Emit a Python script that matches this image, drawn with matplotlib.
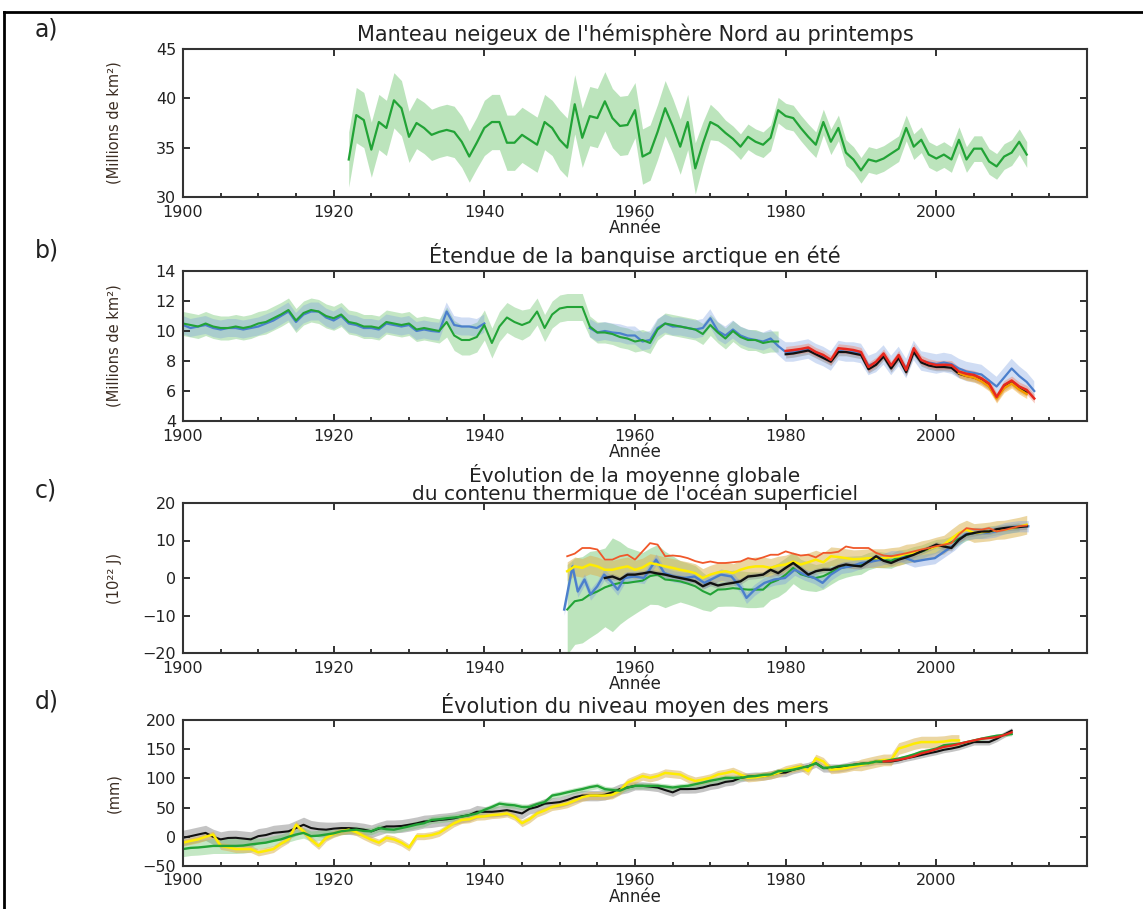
import numpy as np
import matplotlib
matplotlib.use("Agg")
import matplotlib.pyplot as plt
from matplotlib.lines import Line2D
from matplotlib.ticker import MultipleLocator, FixedLocator

plt.rcParams['font.family'] = ['DejaVu Sans']
TXT = '#222222'

# ---------------- a) Northern Hemisphere spring snow cover ----------------
snow_years = np.arange(1922, 2013)
snow_extent = [
    33.8, 38.3, 37.8, 34.8, 37.6, 37.0, 39.8, 39.0,            # 1922-1929
    36.1, 37.5, 37.0, 36.3, 36.6, 36.8, 36.6, 35.6, 34.1, 35.5,  # 1930s
    37.0, 37.6, 37.6, 35.5, 35.5, 36.3, 35.8, 35.3, 37.6, 37.0,  # 1940s
    35.8, 35.0, 39.4, 36.0, 38.2, 38.0, 39.7, 38.0, 37.2, 37.3,  # 1950s
    38.8, 34.1, 34.5, 36.6, 39.0, 37.2, 35.1, 37.6, 32.9, 35.4,  # 1960s
    37.6, 37.2, 36.5, 35.9, 35.1, 36.1, 35.6, 35.3, 36.0, 38.8,  # 1970s
    38.2, 38.0, 37.0, 36.1, 35.3, 37.6, 35.6, 37.0, 34.5, 33.8,  # 1980s
    32.7, 33.8, 33.6, 33.9, 34.4, 34.9, 37.0, 35.1, 35.8, 34.3,  # 1990s
    33.9, 34.3, 33.8, 35.8, 33.8, 34.9, 34.9, 33.6, 33.1, 34.1,  # 2000s
    34.5, 35.6, 34.3,                                            # 2010-2012
]
snow_unc = [
    2.8, 2.8, 2.8, 2.8, 2.8, 2.8, 2.8, 2.8,
    2.6, 2.6, 2.6, 2.6, 2.6, 2.6, 2.6, 2.6, 2.6, 2.6,
    2.8, 2.8, 2.8, 2.8, 2.8, 2.8, 2.8, 2.8, 2.8, 2.8,
    3.0, 3.0, 3.0, 3.0, 3.0, 3.0, 3.0, 3.0, 3.0, 3.0,
    2.8, 2.8, 2.8, 2.8, 2.8, 2.8, 2.8, 2.8, 2.6, 2.2,
    1.8, 1.5, 1.3, 1.3, 1.3, 1.3, 1.3, 1.3, 1.3, 1.3,
    1.3, 1.3, 1.3, 1.3, 1.3, 1.3, 1.3, 1.3, 1.3, 1.3,
    1.3, 1.3, 1.3, 1.3, 1.3, 1.3, 1.3, 1.3, 1.3, 1.3,
    1.3, 1.3, 1.3, 1.3, 1.3, 1.3, 1.3, 1.3, 1.3, 1.3,
    1.3, 1.3, 1.3,
]

# ---------------- b) Arctic summer sea ice extent ----------------
ice_green_years = np.arange(1900, 1980)
ice_green = [
    10.5, 10.4, 10.3, 10.5, 10.3, 10.2, 10.2, 10.3, 10.2, 10.3,
    10.5, 10.6, 10.85, 11.1, 11.4, 10.7, 11.2, 11.4, 11.3, 11.0,
    10.85, 11.1, 10.6, 10.5, 10.3, 10.3, 10.2, 10.6, 10.5, 10.4,
    10.5, 10.1, 10.2, 10.1, 10.0, 10.6, 9.7, 9.4, 9.4, 9.6,
    10.4, 9.2, 10.3, 10.9, 10.6, 10.4, 10.6, 11.3, 10.2, 11.1,
    11.5, 11.6, 11.6, 11.6, 10.3, 9.9, 9.9, 9.8, 9.6, 9.5,
    9.3, 9.4, 9.2, 10.1, 10.5, 10.4, 10.3, 10.2, 10.1, 9.8,
    10.4, 9.9, 9.5, 10.0, 9.6, 9.4, 9.4, 9.2, 9.3, 9.3,
]
ice_green_unc = [
    0.8, 0.8, 0.8, 0.8, 0.8, 0.8, 0.8, 0.8, 0.8, 0.8,
    0.8, 0.8, 0.8, 0.8, 0.8, 0.8, 0.8, 0.8, 0.8, 0.8,
    0.8, 0.8, 0.8, 0.8, 0.8, 0.8, 0.8, 0.8, 0.8, 0.8,
    0.8, 0.8, 0.8, 0.8, 0.8, 1.0, 1.0, 1.0, 1.0, 1.0,
    1.0, 1.0, 1.0, 1.0, 1.0, 1.0, 0.9, 0.9, 0.9, 0.9,
    0.9, 0.9, 0.9, 0.9, 0.7, 0.7, 0.7, 0.7, 0.7, 0.7,
    0.7, 0.7, 0.7, 0.7, 0.7, 0.7, 0.7, 0.7, 0.7, 0.7,
    0.7, 0.7, 0.7, 0.7, 0.7, 0.7, 0.7, 0.7, 0.7, 0.7,
]
ice_blue_years = np.arange(1900, 2014)
ice_blue = [
    10.4, 10.2, 10.3, 10.4, 10.2, 10.1, 10.2, 10.2, 10.1, 10.2,
    10.3, 10.5, 10.7, 11.0, 11.3, 10.6, 11.1, 11.3, 11.3, 10.9,
    10.7, 11.0, 10.5, 10.4, 10.2, 10.2, 10.1, 10.5, 10.4, 10.3,
    10.4, 10.0, 10.1, 10.0, 9.95, 11.3, 10.4, 10.3, 10.3, 10.2,
    10.5, np.nan, np.nan, np.nan, np.nan, np.nan, np.nan, np.nan, np.nan, np.nan,
    np.nan, np.nan, np.nan, np.nan, 10.2, 9.9, 10.0, 9.9, 9.85, 9.7,
    9.7, 9.3, 9.4, 10.2, 10.5, 10.3, 10.3, 10.2, 10.1, 10.2,
    10.85, 10.0, 9.7, 10.1, 9.7, 9.5, 9.4, 9.3, 9.5, 9.0,
    8.6, 8.6, 8.7, 8.8, 8.5, 8.3, 8.0, 8.7, 8.6, 8.6,
    8.5, 7.7, 7.9, 8.4, 7.7, 8.3, 7.5, 8.7, 8.0, 7.9,
    7.8, 7.9, 7.8, 7.5, 7.3, 7.2, 7.1, 6.7, 6.3, 6.9,
    7.5, 7.0, 6.6, 6.0,
]
ice_blue_unc = [0.6] * 80 + [0.65] * 34
ice_red_years = np.arange(1980, 2014)
ice_red = [
    8.67, 8.73, 8.8, 8.9, 8.6, 8.4, 8.07, 8.85, 8.8, 8.73,
    8.6, 7.6, 7.95, 8.5, 7.7, 8.4, 7.4, 8.85, 8.07, 7.85,
    7.73, 7.75, 7.73, 7.3, 7.15, 7.07, 6.84, 6.5, 5.6, 6.4,
    6.7, 6.3, 6.07, 5.5,
]
ice_black_years = np.arange(1980, 2013)
ice_black = [
    8.45, 8.5, 8.6, 8.7, 8.45, 8.2, 7.95, 8.6, 8.6, 8.5,
    8.4, 7.45, 7.75, 8.3, 7.5, 8.2, 7.25, 8.6, 7.9, 7.7,
    7.6, 7.6, 7.55, 7.15, 7.0, 6.9, 6.7, 6.35, 5.55, 6.25,
    6.55, 6.15, 5.9,
]
ice_orange_years = np.arange(2003, 2013)
ice_orange = [7.2, 7.0, 6.9, 6.65, 6.3, 5.5, 6.2, 6.5, 6.1, 5.8]

# ---------------- c) upper ocean heat content ----------------
ohc_red_years = np.arange(1951, 2013)
ohc_red = [
    5.8, 6.5, 8.0, 8.0, 7.6, 4.9, 4.9, 5.8, 6.2,
    4.9, 7.1, 9.3, 8.9, 5.8, 6.0, 5.8, 5.3, 4.5, 4.0,
    4.4, 4.0, 4.0, 4.2, 4.4, 5.3, 4.9, 5.5, 6.2, 6.2,
    7.1, 6.5, 6.0, 6.2, 5.5, 6.7, 6.7, 7.0, 8.4, 8.0,
    8.0, 8.0, 6.7, 6.0, 5.8, 6.2, 6.6, 7.1, 7.6, 8.0,
    8.5, 8.9, 9.3, 11.6, 13.3, 13.0, 12.9, 13.3, 12.4, 12.8,
    13.3, 13.8, 14.0,
]
ohc_black_years = np.arange(1956, 2013)
ohc_black = [
    0.0, 0.4, -0.4, 0.9,
    0.9, 1.2, 1.6, 1.2, 0.9, 0.4, 0.0, -0.4, -0.9, -2.2,
    -1.3, -2.0, -1.6, -1.3, -0.9, 0.4, 0.6, 0.9, 2.2, 1.3,
    2.7, 4.0, 2.5, 0.9, 1.8, 2.2, 2.2, 3.1, 3.6, 3.3,
    3.1, 4.4, 5.8, 4.6, 4.0, 4.9, 5.5, 6.2, 7.1, 8.0,
    8.9, 8.4, 8.0, 10.2, 11.6, 12.0, 12.4, 12.4, 13.0, 13.3,
    13.5, 13.6, 13.8,
]
ohc_yellow_years = np.arange(1951, 2013)
ohc_yellow = [
    1.8, 3.1, 2.7, 3.6, 3.1, 2.2, 2.2, 2.7, 3.1,
    2.2, 2.8, 4.0, 3.6, 3.1, 2.7, 2.2, 1.8, 1.3, 0.0,
    0.9, 1.5, 1.8, 1.3, 2.2, 2.8, 3.1, 3.1, 2.7, 3.3,
    3.6, 4.4, 3.6, 4.2, 4.9, 4.2, 5.8, 5.6, 5.3, 5.0,
    5.1, 5.3, 5.3, 5.3, 5.6, 5.8, 6.5, 6.7, 7.4, 7.8,
    8.4, 8.9, 10.5, 12.0, 12.9, 12.0, 12.2, 12.4, 12.8, 12.9,
    13.3, 13.7, 14.2,
]
ohc_blue_years = [
    1950.6, 1951.7, 1952.4, 1953.3, 1954.1, 1955.0, 1955.9, 1956.8, 1957.7,
    1958.6, 1959.9, 1961.2, 1962.8, 1963.9, 1965.2, 1966.6, 1967.9, 1969.2,
    1970.5, 1971.4, 1972.8, 1974.1, 1974.8, 1975.9, 1977.2, 1978.5, 1979.9,
    1981.2, 1982.5, 1983.8, 1984.9, 1986.0, 1987.4, 1988.7, 1990.0, 1991.4,
    1992.7, 1994.0, 1995.3, 1997.1, 1998.5, 1999.8, 2001.1, 2002.4, 2003.8,
    2005.1, 2006.4, 2007.8, 2009.1, 2010.9, 2012.2,
]
ohc_blue = [
    -8.4, 3.1, -3.6, -0.4, -4.4, -2.2, 0.9, -0.9, -3.1,
    0.0, 0.4, 0.0, 4.9, 1.3, 0.4, 0.0, 0.4, -1.3,
    0.0, 0.9, 0.4, -2.7, -5.3, -3.1, -1.3, -0.4, 0.0,
    2.2, 0.9, 0.0, -1.3, 0.9, 2.7, 3.1, 4.0, 4.4,
    4.9, 5.8, 5.8, 4.4, 4.9, 5.3, 7.1, 8.9, 11.6,
    12.0, 12.0, 12.4, 13.3, 13.8, 13.8,
]
ohc_green_years = np.arange(1951, 2012)
ohc_green = [
    -8.4, -6.2, -5.8, -4.4, -3.6, -2.5, -1.8, -1.3, -1.3,
    -1.0, -0.7, 0.5, 0.9, -0.4, -0.6, -0.9, -1.5, -2.2, -3.5,
    -4.4, -3.1, -3.0, -2.7, -2.9, -3.1, -3.1, -3.1, -1.3, -0.5,
    0.9, 2.7, 1.0, 0.4, 0.0, 0.5, 1.5, 2.5, 3.0, 3.3,
    3.5, 4.5, 5.0, 4.8, 4.6, 5.5, 5.8, 6.5, 7.0, 7.8,
    8.5, 8.8, 9.5, 10.5, 11.5, 12.0, 12.0, 12.5, 12.8, 13.0,
    13.3, 13.6,
]
ohc_green_unc = [
    12.0, 11.5, 11.5, 11.5, 11.0, 10.5, 12.5, 11.0, 9.5,
    8.5, 7.5, 7.5, 8.0, 7.5, 6.5, 5.5, 5.5, 5.5, 5.0,
    4.5, 4.5, 4.5, 4.8, 4.8, 4.8, 4.8, 4.6, 4.5, 4.5,
    4.5, 4.2, 4.0, 3.8, 3.6, 3.5, 3.2, 3.0, 2.8, 2.6,
    2.5, 2.3, 2.2, 2.1, 2.0, 2.0, 1.9, 1.9, 1.8, 1.8,
    1.8, 1.7, 1.7, 1.6, 1.5, 1.5, 1.4, 1.4, 1.3, 1.3,
    1.2, 1.2,
]

# ---------------- d) global mean sea level ----------------
gmsl_black_years = np.arange(1900, 2011)
gmsl_black = [
    -1.7, 1.0, 3.9, 6.7, 0.0, -4.4, -2.0, -1.7, -3.0, -4.4,
    1.1, 3.0, 6.7, 8.0, 9.4, 15.0, 20.6, 15.0, 13.0, 12.2,
    14.0, 15.0, 15.0, 14.0, 12.2, 9.4, 14.0, 17.8, 17.8, 18.5,
    20.6, 23.0, 26.1, 27.0, 28.9, 30.0, 31.7, 35.0, 37.2, 42.8,
    42.8, 42.8, 44.0, 45.6, 43.0, 40.0, 48.0, 51.1, 56.7, 58.0,
    59.4, 63.0, 67.8, 70.6, 70.6, 70.6, 72.0, 76.1, 81.7, 84.4,
    87.2, 87.2, 86.0, 84.4, 80.0, 76.1, 81.7, 81.7, 82.0, 84.4,
    88.0, 90.0, 94.0, 95.6, 101.0, 103.0, 103.9, 103.9, 106.0, 109.4,
    110.0, 115.0, 118.0, 120.6, 126.1, 117.8, 117.8, 117.8, 120.0, 123.3,
    125.0, 126.1, 128.9, 128.9, 128.9, 131.0, 134.4, 137.0, 140.0, 143.0,
    145.6, 149.0, 151.1, 153.9, 158.0, 162.2, 162.2, 162.2, 167.8, 175.0,
    181.7,
]
gmsl_black_unc = [13] * 20 + [11] * 20 + [9] * 20 + [7] * 30 + [5] * 21
gmsl_green_years = np.arange(1900, 2011)
gmsl_green = [
    -21.0, -19.0, -18.3, -17.0, -15.6, -15.6, -15.6, -15.6, -15.0, -13.0,
    -11.5, -10.0, -7.0, -4.4, 0.0, 3.9, 6.7, 1.1, 2.0, 3.9,
    6.0, 9.4, 11.0, 12.2, 10.0, 9.4, 15.0, 13.0, 12.2, 15.0,
    17.8, 21.0, 23.3, 28.9, 30.0, 31.7, 33.0, 34.4, 37.0, 40.0,
    46.0, 51.1, 56.7, 55.0, 53.9, 51.1, 51.1, 56.0, 59.4, 70.6,
    73.0, 76.1, 79.0, 81.7, 85.0, 87.2, 81.7, 80.0, 78.9, 84.4,
    87.2, 87.2, 87.2, 87.2, 86.0, 84.4, 86.0, 87.2, 90.0, 92.8,
    96.0, 98.3, 101.0, 101.0, 101.0, 103.0, 104.0, 106.0, 106.7, 112.2,
    113.0, 115.0, 118.0, 120.6, 126.1, 117.8, 119.0, 120.6, 122.0, 123.3,
    125.0, 126.1, 128.9, 129.0, 131.7, 134.0, 137.2, 141.0, 145.6, 148.0,
    151.1, 156.7, 158.0, 159.4, 162.0, 165.0, 168.0, 170.6, 173.0, 174.4,
    176.0,
]
gmsl_green_unc = [13] * 10 + [9] * 10 + [6] * 20 + [5] * 40 + [3] * 31
gmsl_yellow_years = np.arange(1900, 2004)
gmsl_yellow = [
    -10.0, -7.0, -4.4, 0.0, 3.9, -15.6, -18.0, -21.0, -21.0, -21.0,
    -26.7, -24.0, -21.0, -12.0, -4.4, 20.6, 9.4, -5.0, -15.6, -1.7,
    5.0, 9.4, 12.2, 8.0, 1.1, -5.0, -10.0, -1.7, -4.4, -10.0,
    -18.3, 1.1, 1.1, 3.0, 6.7, 15.0, 23.3, 28.9, 30.0, 34.4,
    35.0, 37.2, 38.0, 40.0, 34.4, 23.3, 30.0, 40.0, 45.0, 51.1,
    54.0, 56.7, 62.0, 67.8, 70.6, 70.6, 70.6, 72.0, 78.9, 92.8,
    98.3, 103.9, 101.0, 104.0, 109.4, 108.0, 106.7, 100.0, 95.6, 98.0,
    101.0, 106.7, 109.0, 112.2, 106.7, 101.0, 102.0, 103.9, 106.0, 109.4,
    115.0, 117.8, 120.6, 112.2, 134.4, 128.9, 115.0, 116.0, 117.8, 120.6,
    123.0, 126.1, 129.0, 131.7, 131.7, 151.1, 155.0, 159.4, 162.2, 162.2,
    162.2, 163.0, 165.0, 165.0,
]
gmsl_yellow_unc = [6] * 50 + [7] * 40 + [10] * 14
gmsl_red_years = np.arange(1993, 2011)
gmsl_red = [
    128.9, 130.0, 132.0, 134.4, 138.0, 142.8, 146.0, 150.0, 153.9, 156.0,
    159.0, 162.2, 165.0, 167.8, 169.0, 170.6, 174.0, 178.9,
]

year_ticks = [1900, 1920, 1940, 1960, 1980, 2000]

# ---------------- colours ----------------
GREEN, GREEN_BAND = '#22a336', '#6cc46c'
BLUE, BLUE_BAND = '#4b7fcc', '#7b9ee0'
RED, RED_BAND = '#e8281e', '#f07a60'
BLACK, GREY_BAND = '#111111', '#8a8a8a'
ORANGE, ORANGE_BAND = '#f59b00', '#f7b64a'
YELLOW, TAN_BAND = '#ffec00', '#dcb556'
OHC_RED = '#f0582a'


def band(ax, x, y, e, color, alpha):
    y = np.asarray(y, float)
    e = np.asarray(e, float)
    ax.fill_between(x, y - e, y + e, color=color, alpha=alpha, lw=0)


def style(ax, ylim, ystep, ylabel, title, title_pad=6, lines=1.0,
          xlabel_pad=-1, xtick_pad=6):
    ax.set_xlim(1900, 2020)
    ax.set_ylim(*ylim)
    ax.xaxis.set_major_locator(FixedLocator(year_ticks))
    ax.xaxis.set_minor_locator(MultipleLocator(5))
    ax.yaxis.set_major_locator(MultipleLocator(ystep))
    ax.tick_params(which='major', direction='in', length=5, width=1.3,
                   top=True, right=True, labelsize=11.5, colors=TXT, pad=5)
    ax.tick_params(axis='x', which='major', pad=xtick_pad)
    ax.tick_params(which='minor', direction='in', length=3, width=1.1,
                   top=False, right=False)
    for s in ax.spines.values():
        s.set_linewidth(1.5)
        s.set_color('#333333')
    ax.set_xlabel('Année', fontsize=12, color=TXT, labelpad=xlabel_pad)
    ax.set_ylabel(ylabel, fontsize=10.5, color='#3a2c22')
    ax.yaxis.set_label_coords(-0.068, 0.5)
    ax.set_title(title, fontsize=15, color=TXT, pad=title_pad,
                 linespacing=lines)


fig = plt.figure(figsize=(11.43, 9.09), dpi=100)
W, H = 1143, 909
left, width = 183 / W, (1087 - 183) / W


def make_axes(top_px, bottom_px):
    return fig.add_axes([left, 1 - bottom_px / H, width,
                         (bottom_px - top_px) / H])


# a)
ax = make_axes(49, 197)
band(ax, snow_years, snow_extent, snow_unc, GREEN_BAND, 0.45)
ax.plot(snow_years, snow_extent, color=GREEN, lw=1.6)
style(ax, (30, 45), 5, '(Millions de km²)',
      "Manteau neigeux de l'hémisphère Nord au printemps")

# b)
ax = make_axes(271, 421)
band(ax, ice_green_years, ice_green, ice_green_unc, GREEN_BAND, 0.4)
band(ax, ice_blue_years, ice_blue, ice_blue_unc, BLUE_BAND, 0.35)
band(ax, ice_black_years, ice_black, [0.25] * len(ice_black), GREY_BAND, 0.45)
band(ax, ice_red_years, ice_red, [0.3] * len(ice_red), RED_BAND, 0.4)
band(ax, ice_orange_years, ice_orange, [0.3] * len(ice_orange), ORANGE_BAND, 0.55)
ax.plot(ice_blue_years, ice_blue, color=BLUE, lw=1.6)
ax.plot(ice_green_years, ice_green, color=GREEN, lw=1.5)
ax.plot(ice_black_years, ice_black, color=BLACK, lw=1.6)
ax.plot(ice_orange_years, ice_orange, color=ORANGE, lw=1.8)
ax.plot(ice_red_years, ice_red, color=RED, lw=1.8)
style(ax, (4, 14), 2, '(Millions de km²)',
      'Étendue de la banquise arctique en été')

# c)
ax = make_axes(503, 653)
band(ax, ohc_green_years, ohc_green, ohc_green_unc, GREEN_BAND, 0.45)
band(ax, ohc_yellow_years, ohc_yellow, [2.5] * len(ohc_yellow), TAN_BAND, 0.55)
band(ax, ohc_blue_years, ohc_blue, [1.5] * len(ohc_blue), BLUE_BAND, 0.4)
band(ax, ohc_black_years, ohc_black, [0.8] * len(ohc_black), GREY_BAND, 0.4)
ax.plot(ohc_green_years, ohc_green, color=GREEN, lw=1.5)
ax.plot(ohc_blue_years, ohc_blue, color=BLUE, lw=1.7)
ax.plot(ohc_yellow_years, ohc_yellow, color=YELLOW, lw=1.8)
ax.plot(ohc_black_years, ohc_black, color=BLACK, lw=1.7)
ax.plot(ohc_red_years, ohc_red, color=OHC_RED, lw=1.3)
style(ax, (-20, 20), 10, '(10²² J)',
      "Évolution de la moyenne globale\ndu contenu thermique de l'océan superficiel",
      title_pad=2, lines=0.9)
ax.title.set_fontsize(14.5)

# d)
ax = make_axes(720, 866)
band(ax, gmsl_black_years, gmsl_black, gmsl_black_unc, GREY_BAND, 0.5)
band(ax, gmsl_green_years, gmsl_green, gmsl_green_unc, GREEN_BAND, 0.4)
band(ax, gmsl_yellow_years, gmsl_yellow, gmsl_yellow_unc, TAN_BAND, 0.55)
ax.plot(gmsl_black_years, gmsl_black, color=BLACK, lw=1.5)
ax.plot(gmsl_yellow_years, gmsl_yellow, color=YELLOW, lw=1.8)
ax.plot(gmsl_green_years, gmsl_green, color=GREEN, lw=1.7)
ax.plot(gmsl_red_years, gmsl_red, color=RED, lw=1.6)
style(ax, (-50, 200), 50, '(mm)', 'Évolution du niveau moyen des mers',
      title_pad=5, xlabel_pad=0, xtick_pad=5)

# panel letters
for lab, ypx in [('a)', 30), ('b)', 250), ('c)', 490), ('d)', 702)]:
    fig.text(35 / W, 1 - ypx / H, lab, fontsize=17, color=TXT,
             ha='left', va='center')

# outer frame (top and left edges)
fig.add_artist(Line2D([4 / W, 4 / W], [0, 1 - 12 / H], color='black', lw=2))
fig.add_artist(Line2D([4 / W, 1], [1 - 12 / H, 1 - 12 / H], color='black', lw=2))

fig.savefig('out.png', dpi=100)
